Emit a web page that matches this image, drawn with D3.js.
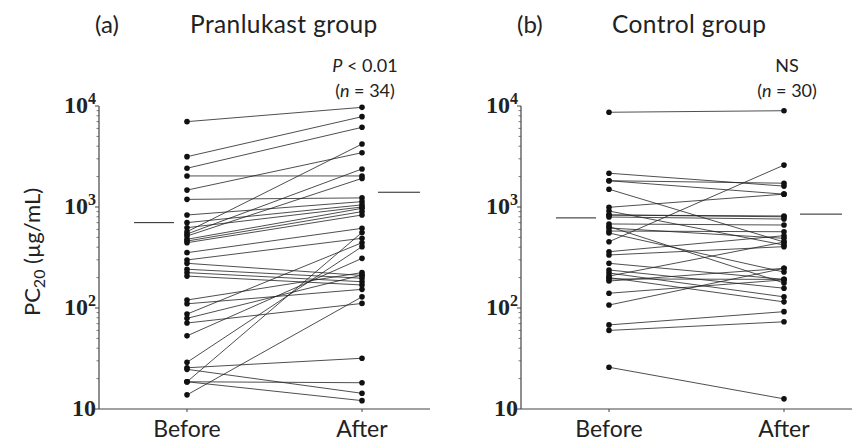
<!DOCTYPE html>
<html>
<head>
<meta charset="utf-8">
<script src="https://cdn.jsdelivr.net/npm/d3@7"></script>
<style>
  body { margin: 0; background: #fff; }
  text { fill: #222; }
</style>
</head>
<body>
<div id="viz"></div>
<script>
// PC20 values, Before / After pairs
const pranBefore = [7000, 3150, 2420, 2030, 1470, 1190, 833, 700, 624, 569, 540, 516, 479, 460, 443, 353, 299, 277, 242, 224, 207, 120, 110, 87, 79, 71, 53, 29, 25.6, 24.7, 18.6, 18.6, 18.6, 13.8];
const pranAfter  = [9700, 7840, 6150, 2030, 3450, 1230, 1130, 1050, 1000, 4200, 2380, 1920, 970, 900, 833, 615, 490, 210, 197, 182, 169, 224, 153, 443, 212, 111, 310, 405, 31.8, 14.3, 18.2, 12.1, 560, 129];
const ctrlBefore = [8670, 2160, 1820, 1820, 1500, 993, 912, 833, 833, 796, 679, 640, 620, 578, 553, 453, 361, 335, 277, 238, 222, 207, 200, 194, 185, 140, 107, 68, 60, 25.9];
const ctrlAfter  = [8980, 1610, 1720, 1340, 450, 1340, 420, 815, 800, 760, 663, 177, 490, 569, 227, 2600, 520, 405, 192, 157, 129, 450, 115, 192, 247, 190, 247, 92, 73, 12.6];
const pranMeans = [700, 1400];
const ctrlMeans = [780, 850];
const timepoints = ["Before", "After"];
const yTicks = [10, 100, 1000, 10000];

const width = 860, height = 441;
const svg = d3.select("#viz").append("svg")
    .attr("width", width)
    .attr("height", height);

const y = d3.scaleLog().domain([10, 10000]).range([409, 106]);

const sans = "Lato, 'Open Sans', sans-serif";

function panel(x0, before, after, means, letter, title, stat, nText) {
    const g = svg.append("g").attr("transform", "translate(" + x0 + ",0)");
    const x = d3.scalePoint().domain(timepoints).range([88, 263]);

    // y axis
    g.append("line").attr("x1", 0).attr("x2", 0).attr("y1", y(10000)).attr("y2", y(10))
        .attr("stroke", "#444").attr("stroke-width", 1.2);
    const minor = [];
    for (let d = 10; d < 10000; d *= 10) {
        for (let k = 2; k <= 9; k++) minor.push(d * k);
    }
    g.selectAll(".minor").data(minor).enter().append("line")
        .attr("x1", -2.5).attr("x2", 0)
        .attr("y1", d => y(d)).attr("y2", d => y(d))
        .attr("stroke", "#555").attr("stroke-width", 0.8);
    g.selectAll(".major").data(yTicks).enter().append("line")
        .attr("x1", -4).attr("x2", 0)
        .attr("y1", d => y(d)).attr("y2", d => y(d))
        .attr("stroke", "#444").attr("stroke-width", 1);

    const lab = g.selectAll(".ylab").data(yTicks).enter().append("text")
        .attr("x", -3).attr("y", d => y(d) + 7)
        .attr("text-anchor", "end")
        .attr("font-family", "'Liberation Serif', serif")
        .attr("font-weight", "bold")
        .attr("font-size", 24);
    lab.each(function (d) {
        const t = d3.select(this);
        if (d === 10) { t.text("10"); return; }
        t.append("tspan").text("10");
        t.append("tspan").attr("dy", -9).attr("font-size", 16).text(Math.round(Math.log10(d)));
    });

    // x axis
    g.append("line").attr("x1", 0).attr("x2", 331).attr("y1", y(10)).attr("y2", y(10))
        .attr("stroke", "#444").attr("stroke-width", 1.2);
    g.selectAll(".xt").data(timepoints).enter().append("line")
        .attr("x1", d => x(d)).attr("x2", d => x(d))
        .attr("y1", y(10)).attr("y2", y(10) + 3)
        .attr("stroke", "#444");
    g.selectAll(".xl").data(timepoints).enter().append("text")
        .attr("x", d => x(d)).attr("y", 437)
        .attr("text-anchor", "middle")
        .attr("font-family", sans).attr("font-size", 23)
        .text(d => d);

    // paired lines
    const pairs = before.map((b, i) => [b, after[i]]);
    g.selectAll(".pair").data(pairs).enter().append("line")
        .attr("x1", x("Before")).attr("x2", x("After"))
        .attr("y1", d => y(d[0])).attr("y2", d => y(d[1]))
        .attr("stroke", "#222").attr("stroke-width", 0.8);
    g.selectAll(".db").data(before).enter().append("circle")
        .attr("cx", x("Before")).attr("cy", d => y(d)).attr("r", 2.8).attr("fill", "#111");
    g.selectAll(".da").data(after).enter().append("circle")
        .attr("cx", x("After")).attr("cy", d => y(d)).attr("r", 2.8).attr("fill", "#111");

    // group mean bars
    g.append("line").attr("x1", 35).attr("x2", 75)
        .attr("y1", y(means[0])).attr("y2", y(means[0]))
        .attr("stroke", "#222").attr("stroke-width", 1);
    g.append("line").attr("x1", 279).attr("x2", 321)
        .attr("y1", y(means[1])).attr("y2", y(means[1]))
        .attr("stroke", "#222").attr("stroke-width", 1);

    // titles
    g.append("text").attr("x", -4).attr("y", 33)
        .attr("font-family", sans).attr("font-size", 24).text(letter);
    g.append("text").attr("x", 91).attr("y", 33)
        .attr("font-family", sans).attr("font-size", 24.5)
        .attr("letter-spacing", 0.4).text(title);

    const st = g.append("text").attr("x", x("After") + 3).attr("y", 72)
        .attr("text-anchor", "middle")
        .attr("font-family", sans).attr("font-size", 18);
    if (stat === "P") {
        st.append("tspan").attr("font-style", "italic").text("P");
        st.append("tspan").text(" < 0.01");
    } else {
        st.text(stat);
    }
    const nt = g.append("text").attr("x", x("After") + 3).attr("y", 97)
        .attr("text-anchor", "middle")
        .attr("font-family", sans).attr("font-size", 18);
    nt.append("tspan").text("(");
    nt.append("tspan").attr("font-style", "italic").text("n");
    nt.append("tspan").text(" = " + nText + ")");
}

panel(99, pranBefore, pranAfter, pranMeans, "(a)", "Pranlukast group", "P", 34);
panel(521, ctrlBefore, ctrlAfter, ctrlMeans, "(b)", "Control group", "NS", 30);

// y title
svg.append("text")
    .attr("transform", "translate(40,252) rotate(-90)")
    .attr("text-anchor", "middle")
    .attr("font-family", sans).attr("font-size", 22)
    .call(t => {
        t.append("tspan").text("PC");
        t.append("tspan").attr("dy", 5).attr("font-size", 16).text("20");
        t.append("tspan").attr("dy", -5).text("  (µg/mL)");
    });
</script>
</body>
</html>
